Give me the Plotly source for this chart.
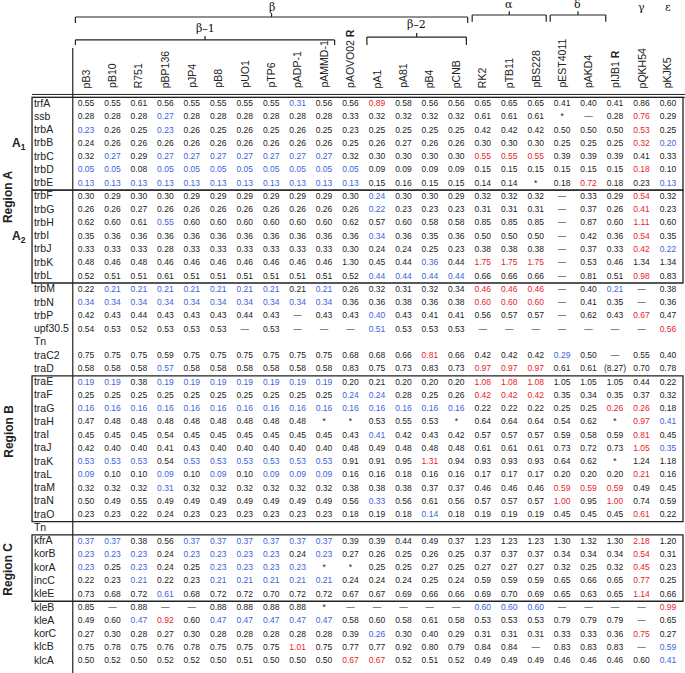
import plotly.graph_objects as go

plasmids = ["pB3", "pB10", "R751", "pBP136", "pJP4", "pB8", "pUO1", "pTP6", "pADP-1", "pAMMD-1",
            "pAOVO02 <b>R</b>", "pA1", "pA81", "pB4", "pCNB", "RK2", "pTB11", "pBS228",
            "pEST4011", "pAKD4", "pIJB1 <b>R</b>", "pQKH54", "pKJK5"]

genes = ["trfA", "ssb", "trbA", "trbB", "trbC", "trbD", "trbE",
         "trbF", "trbG", "trbH", "trbI", "trbJ", "trbK", "trbL",
         "trbM", "trbN", "trbP", "upf30.5", "Tn", "traC2", "traD",
         "traE", "traF", "traG", "traH", "traI", "traJ", "traK", "traL", "traM", "traN", "traO",
         "Tn", "kfrA", "korB", "korA", "incC", "kleE",
         "kleB", "kleA", "korC", "klcB", "klcA"]

# cell values per gene row ('-' = dash, '*' = asterisk); '|' separates beta-1 columns from the rest
values = [
    "0.55 0.55 0.61 0.56 0.55 0.55 0.55 0.55 0.31 0.56 | 0.56 0.89 0.58 0.56 0.56 0.65 0.65 0.65 0.41 0.40 0.41 0.86 0.60",
    "0.28 0.28 0.28 0.27 0.28 0.28 0.28 0.28 0.28 0.28 | 0.33 0.32 0.32 0.32 0.32 0.61 0.61 0.61 * - 0.28 0.76 0.29",
    "0.23 0.26 0.25 0.23 0.26 0.25 0.26 0.25 0.26 0.25 | 0.23 0.25 0.25 0.25 0.25 0.42 0.42 0.42 0.50 0.50 0.50 0.53 0.25",
    "0.24 0.26 0.26 0.26 0.26 0.26 0.26 0.26 0.26 0.26 | 0.25 0.26 0.27 0.26 0.26 0.30 0.30 0.30 0.25 0.25 0.25 0.32 0.20",
    "0.32 0.27 0.29 0.27 0.27 0.27 0.27 0.27 0.27 0.27 | 0.32 0.30 0.30 0.30 0.30 0.55 0.55 0.55 0.39 0.39 0.39 0.41 0.33",
    "0.05 0.05 0.08 0.05 0.05 0.05 0.05 0.05 0.05 0.05 | 0.05 0.09 0.09 0.09 0.09 0.15 0.15 0.15 0.15 0.15 0.15 0.18 0.10",
    "0.13 0.13 0.13 0.13 0.13 0.13 0.13 0.13 0.13 0.13 | 0.13 0.15 0.16 0.15 0.15 0.14 0.14 * 0.18 0.72 0.18 0.23 0.13",
    "0.30 0.29 0.30 0.30 0.29 0.29 0.29 0.29 0.29 0.29 | 0.30 0.24 0.30 0.30 0.29 0.32 0.32 0.32 - 0.33 0.29 0.54 0.32",
    "0.26 0.26 0.27 0.26 0.26 0.26 0.26 0.26 0.26 0.26 | 0.26 0.22 0.23 0.23 0.23 0.31 0.31 0.31 - 0.37 0.26 0.41 0.23",
    "0.62 0.60 0.61 0.55 0.60 0.60 0.60 0.60 0.60 0.60 | 0.62 0.57 0.60 0.58 0.58 0.85 0.85 0.85 - 0.87 0.60 1.11 0.60",
    "0.35 0.36 0.36 0.36 0.36 0.36 0.36 0.36 0.36 0.36 | 0.36 0.34 0.36 0.35 0.36 0.50 0.50 0.50 - 0.42 0.36 0.54 0.35",
    "0.33 0.33 0.33 0.28 0.33 0.33 0.33 0.33 0.33 0.33 | 0.30 0.24 0.24 0.25 0.23 0.38 0.38 0.38 - 0.37 0.33 0.42 0.22",
    "0.48 0.46 0.48 0.46 0.46 0.46 0.46 0.46 0.46 0.46 | 1.30 0.45 0.44 0.36 0.44 1.75 1.75 1.75 - 0.53 0.46 1.34 1.34",
    "0.52 0.51 0.51 0.61 0.51 0.51 0.51 0.51 0.51 0.51 | 0.52 0.44 0.44 0.44 0.44 0.66 0.66 0.66 - 0.81 0.51 0.98 0.83",
    "0.22 0.21 0.21 0.21 0.21 0.21 0.21 0.21 0.21 0.21 | 0.26 0.32 0.31 0.32 0.34 0.46 0.46 0.46 - 0.40 0.21 - 0.38",
    "0.34 0.34 0.34 0.34 0.34 0.34 0.34 0.34 0.34 0.34 | 0.36 0.36 0.38 0.36 0.38 0.60 0.60 0.60 - 0.41 0.35 - 0.36",
    "0.42 0.43 0.44 0.43 0.43 0.43 0.44 0.43 - 0.43 | 0.43 0.40 0.43 0.41 0.41 0.56 0.57 0.57 - 0.62 0.43 0.67 0.47",
    "0.54 0.53 0.52 0.53 0.53 0.53 - 0.53 - - | - 0.51 0.53 0.53 0.53 - - - - - - - 0.56",
    "",
    "0.75 0.75 0.75 0.59 0.75 0.75 0.75 0.75 0.75 0.75 | 0.68 0.68 0.66 0.81 0.66 0.42 0.42 0.42 0.29 0.50 - 0.55 0.40",
    "0.58 0.58 0.58 0.57 0.58 0.58 0.58 0.58 0.58 0.58 | 0.83 0.75 0.73 0.83 0.73 0.97 0.97 0.97 0.61 0.61 (8.27) 0.70 0.78",
    "0.19 0.19 0.38 0.19 0.19 0.19 0.19 0.19 0.19 0.19 | 0.20 0.21 0.20 0.20 0.20 1.08 1.08 1.08 1.05 1.05 1.05 0.44 0.22",
    "0.25 0.25 0.25 0.25 0.25 0.25 0.25 0.25 0.25 0.25 | 0.24 0.24 0.28 0.25 0.26 0.42 0.42 0.42 0.35 0.34 0.35 0.37 0.32",
    "0.16 0.16 0.16 0.16 0.16 0.16 0.16 0.16 0.16 0.16 | 0.16 0.16 0.16 0.16 0.16 0.22 0.22 0.22 0.25 0.25 0.26 0.26 0.18",
    "0.47 0.48 0.48 0.48 0.48 0.48 0.48 0.48 0.48 * | * 0.53 0.55 0.53 * 0.64 0.64 0.64 0.54 0.62 * 0.97 0.41",
    "0.45 0.45 0.45 0.54 0.45 0.45 0.45 0.45 0.45 0.45 | 0.43 0.41 0.42 0.43 0.42 0.57 0.57 0.57 0.59 0.58 0.59 0.81 0.45",
    "0.42 0.40 0.40 0.41 0.43 0.40 0.40 0.40 0.40 0.40 | 0.48 0.49 0.48 0.48 0.48 0.61 0.61 0.61 0.73 0.72 0.73 1.05 0.35",
    "0.53 0.53 0.53 0.54 0.53 0.53 0.53 0.53 0.53 0.53 | 0.91 0.91 0.95 1.31 0.94 0.93 0.93 0.93 0.64 0.62 * 1.24 1.18",
    "0.09 0.10 0.10 0.09 0.10 0.09 0.10 0.09 0.09 0.09 | 0.16 0.16 0.18 0.16 0.16 0.17 0.17 0.17 0.20 0.20 0.20 0.21 0.16",
    "0.32 0.32 0.32 0.31 0.32 0.32 0.32 0.32 0.32 0.32 | 0.38 0.38 0.38 0.37 0.37 0.46 0.46 0.46 0.59 0.59 0.59 0.49 0.45",
    "0.50 0.49 0.55 0.49 0.49 0.49 0.49 0.49 0.49 0.49 | 0.56 0.33 0.56 0.61 0.56 0.57 0.57 0.57 1.00 0.95 1.00 0.74 0.59",
    "0.23 0.23 0.22 0.24 0.23 0.23 0.23 0.23 0.23 0.23 | 0.18 0.19 0.18 0.14 0.18 0.19 0.19 0.19 0.45 0.45 0.45 0.61 0.22",
    "",
    "0.37 0.37 0.38 0.56 0.37 0.37 0.37 0.37 0.37 0.37 | 0.39 0.39 0.44 0.49 0.37 1.23 1.23 1.23 1.30 1.32 1.30 2.18 1.20",
    "0.23 0.23 0.23 0.24 0.23 0.23 0.23 0.23 0.24 0.23 | 0.27 0.26 0.25 0.26 0.25 0.37 0.37 0.37 0.34 0.34 0.34 0.54 0.31",
    "0.23 0.25 0.23 0.24 0.25 0.23 0.23 0.23 0.23 * | * 0.25 0.25 0.27 0.25 0.27 0.27 0.27 0.32 0.25 0.32 0.45 0.23",
    "0.22 0.23 0.21 0.22 0.23 0.21 0.21 0.21 0.21 0.21 | 0.24 0.24 0.24 0.25 0.24 0.59 0.59 0.59 0.65 0.66 0.65 0.77 0.25",
    "0.73 0.68 0.72 0.61 0.68 0.72 0.72 0.70 0.72 0.72 | 0.67 0.67 0.69 0.66 0.66 0.69 0.70 0.69 0.65 0.63 0.65 1.14 0.66",
    "0.85 - 0.88 - - 0.88 0.88 0.88 0.88 * | - - - - - 0.60 0.60 0.60 - - - - 0.99",
    "0.49 0.60 0.47 0.92 0.60 0.47 0.47 0.47 0.47 0.47 | 0.58 0.60 0.58 0.61 0.58 0.53 0.53 0.53 0.79 0.79 0.79 - 0.65",
    "0.27 0.30 0.28 0.27 0.30 0.28 0.28 0.28 0.28 0.28 | 0.39 0.26 0.30 0.40 0.29 0.31 0.31 0.31 0.33 0.33 0.36 0.75 0.27",
    "0.75 0.78 0.75 0.76 0.78 0.75 0.75 0.75 1.01 0.75 | 0.77 0.77 0.92 0.80 0.79 0.84 0.84 - 0.83 0.83 0.83 - 0.59",
    "0.50 0.52 0.50 0.52 0.52 0.50 0.51 0.50 0.50 0.50 | 0.67 0.67 0.52 0.51 0.52 0.49 0.49 0.49 0.46 0.46 0.46 0.60 0.41",
]

# highlight class of each cell: k = normal, b = lower (blue), r = higher (red)
marks = [
    "kkkkkkkkbk krkkkkkkkkkkk",
    "kkkbkkkkkk kkkkkkkkkkkrk",
    "bkkbkkkkkk kkkkkkkkkkkrk",
    "kkkkkkkkkk kkkkkkkkkkkrb",
    "kbkbbbbbbb kkkkkrrrkkkkk",
    "bbkbbbbbbb bkkkkkkkkkkrk",
    "bbbbbbbbbb bkkkkkkkkrkkb",
    "kkkkkkkkkk kbkkkkkkkkkrk",
    "kkkkkkkkkk kbkkkkkkkkkrk",
    "kkkbkkkkkk kkkkkkkkkkkrk",
    "kkkkkkkkkk kbkkkkkkkkkrk",
    "kkkkkkkkkk kkkkkkkkkkkrb",
    "kkkkkkkkkk kkkbkrrrkkkkk",
    "kkkkkkkkkk kbbbbkkkkkkrk",
    "kbbbbbbbkb kkkkkrrrkkbkk",
    "bbbbbbbbbb kkkkkrrrkkkkk",
    "kkkkkkkkkk kbkkkkkkkkkrk",
    "kkkkkkkkkk kbkkkkkkkkkkr",
    "kkkkkkkkkk kkkkkkkkkkkkk",
    "kkkkkkkkkk kkkrkkkkbkkkk",
    "kkkbkkkkkk kkkkkrrrkkkkk",
    "bbkbbbbbbb kkkkkrrrkkkkk",
    "kkkkkkkkkk bbkkkrrrkkkkk",
    "bbbbbbbbbb bbbbbkkkkkrrk",
    "kkkkkkkkkk kkkkkkkkkkkrb",
    "kkkkkkkkkk kbkkkkkkkkkrk",
    "kkkkkkkkkk kkkkkkkkkkkrb",
    "bbbkbbbbbb kkkrkkkkkkkkk",
    "bkkbkbkbbb kkkkkkkkkkkrk",
    "kkkbkkkkkk kkkkkkkkrrrkk",
    "kkkkkkkkkk kbkkkkkkrkrkk",
    "kkkkkkkkkk kkkbkkkkkkkrk",
    "kkkkkkkkkk kkkkkkkkkkkkk",
    "bbkkbbbbbb kkkkkkkkkkkrk",
    "bbbkbbbbkb kkkkkkkkkkkrk",
    "bkbkkbbbbk kkkkkkkkkkkrk",
    "kkbkkbbbbb kkkkkkkkkkkrk",
    "kkkbkkkkkk kkkkkkkkkkkrk",
    "kkkkkkkkkk kkkkkbbbkkkkr",
    "kkbrkbbbbb kkkkkkkkkkkkk",
    "kkkkkkkkkk kbkkkkkkkkkrk",
    "kkkkkkkkrk kkkkkkkkkkkkb",
    "kkkkkkkkkk rrkkkkkkkkkkb",
]

# family brackets: (label, first column, last column, level)
families = [("β", 0, 14, "top"), ("β–1", 0, 9, "mid"), ("β–2", 11, 14, "mid2"),
            ("α", 15, 17, "top2"), ("δ", 18, 19, "top2")]
single_families = [("γ", 21), ("ε", 22)]

regions = [("Region A", 7.0), ("Region B", 24.7), ("Region C", 35.1)]
subregions = [("A<sub>1</sub>", 3), ("A<sub>2</sub>", 10)]
boxes = [(0, 6), (7, 13), (21, 31), (33, 37)]

FONT = "Liberation Sans, Arial, Helvetica, sans-serif"
SERIF = "DejaVu Serif, Liberation Serif, serif"
BLACK = "#222222"
BLUE = "#3c63dd"
RED = "#e8232b"
DASH = "—"

fig = go.Figure()

colors = {"k": BLACK, "b": BLUE, "r": RED}
for code, color in colors.items():
    xs, ys, ts = [], [], []
    for j, (vrow, mrow) in enumerate(zip(values, marks)):
        cells = [c for c in vrow.split() if c != "|"]
        m = mrow.replace(" ", "")
        for i, c in enumerate(cells):
            if m[i] == code:
                xs.append(i)
                ys.append(j)
                ts.append(DASH if c == "-" else c)
    fig.add_trace(go.Scatter(x=xs, y=ys, mode="text", text=ts,
                             textfont=dict(color=color, size=8.5, family=FONT),
                             hoverinfo="skip", showlegend=False))

# gene labels
fig.add_trace(go.Scatter(x=[-1.97] * len(genes), y=list(range(len(genes))), mode="text",
                         text=genes, textposition="middle right",
                         textfont=dict(color=BLACK, size=10.5, family=FONT),
                         hoverinfo="skip", showlegend=False))

shapes = []
LW = 1.3
x_left, x_right = -2.04, 22.57
# vertical separator
shapes.append(dict(type="line", x0=-0.5, x1=-0.5, y0=-4.22, y1=len(genes) + 1, line=dict(color=BLACK, width=1.2)))
# double header line
for yy in (-0.72, -0.5):
    shapes.append(dict(type="line", x0=x_left, x1=22.7, y0=yy, y1=yy, line=dict(color=BLACK, width=1)))
# region boxes
for a, b in boxes:
    shapes.append(dict(type="rect", x0=x_left, x1=x_right, y0=a - 0.5, y1=b + 0.5,
                       line=dict(color=BLACK, width=LW)))

levels = {"top": (-6.56, -6.11, -6.86, -7.31), "top2": (-6.71, -6.2, -7.0, -7.47),
          "mid": (-4.83, -4.45, -5.13, -5.73), "mid2": (-5.05, -4.45, -5.35, -5.96)}
pads = {"β": (0.4, 0.43), "β–1": (0.4, 0.4), "β–2": (0.38, 0.38), "α": (0.4, 0.4), "δ": (0.45, 0.65)}
annotations = []
for label, c0, c1, lev in families:
    yl, yt, yc, ylab = levels[lev]
    pl, pr = pads[label]
    xa, xb = c0 - pl, c1 + pr
    xm = (xa + xb) / 2
    shapes.append(dict(type="line", x0=xa, x1=xb, y0=yl, y1=yl, line=dict(color=BLACK, width=1.2)))
    shapes.append(dict(type="line", x0=xa, x1=xa, y0=yl, y1=yt, line=dict(color=BLACK, width=1.2)))
    shapes.append(dict(type="line", x0=xb, x1=xb, y0=yl, y1=yt, line=dict(color=BLACK, width=1.2)))
    shapes.append(dict(type="line", x0=xm, x1=xm, y0=yl, y1=yc, line=dict(color=BLACK, width=1.2)))
    annotations.append(dict(x=xm, y=ylab, text=label, showarrow=False, xanchor="center", yanchor="middle",
                            font=dict(size=11, color="#111111", family=SERIF)))
for label, c in single_families:
    annotations.append(dict(x=c, y=-7.31, text=label, showarrow=False, xanchor="center", yanchor="middle",
                            font=dict(size=11, color="#111111", family=SERIF)))

for i, p in enumerate(plasmids):
    annotations.append(dict(x=i, y=-1.06, text=p, textangle=-90, showarrow=False,
                            xanchor="center", yanchor="bottom",
                            font=dict(size=10.5, color=BLACK, family=FONT)))

for label, yy in regions:
    annotations.append(dict(x=-2.94, y=yy, text="<b>" + label + "</b>", textangle=-90, showarrow=False,
                            xanchor="center", yanchor="middle",
                            font=dict(size=12, color=BLACK, family=FONT)))
for label, yy in subregions:
    annotations.append(dict(x=-2.53, y=yy, text="<b>" + label + "</b>", showarrow=False,
                            xanchor="center", yanchor="middle",
                            font=dict(size=12, color=BLACK, family=FONT)))

fig.update_layout(
    width=685, height=673, margin=dict(l=0, r=0, t=0, b=0),
    paper_bgcolor="white", plot_bgcolor="white",
    hovermode=False, dragmode=False,
    xaxis=dict(range=[-3.251, 22.646], visible=False, fixedrange=True),
    yaxis=dict(range=[42.911, -7.843], visible=False, fixedrange=True),
    shapes=shapes, annotations=annotations,
)

fig.write_html("out.html", config={"displayModeBar": False, "staticPlot": True},
               post_script="document.body.style.margin='0';document.body.style.overflow='hidden';")
